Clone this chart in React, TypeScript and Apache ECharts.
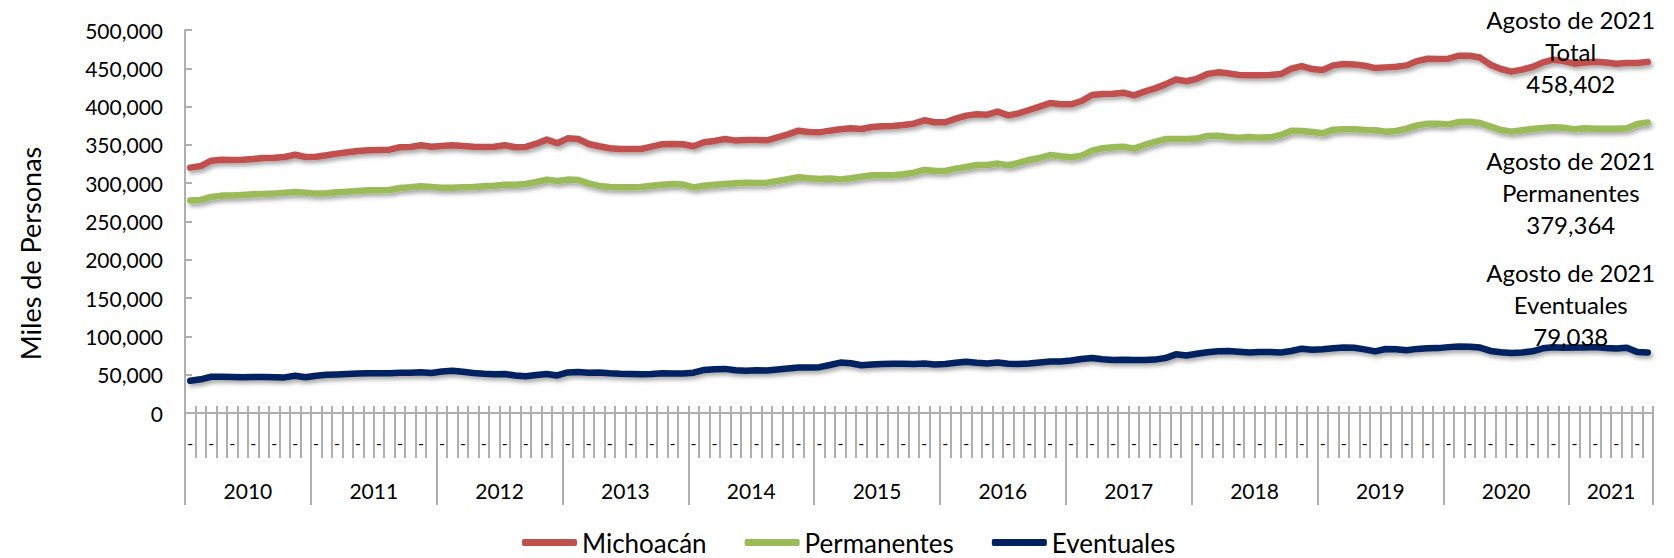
import React, { useEffect, useRef } from "react";
import * as echarts from "echarts";

const YEARS = ["2010", "2011", "2012", "2013", "2014", "2015", "2016", "2017", "2018", "2019", "2020", "2021"];
const MONTHS_IN_YEAR = [12, 12, 12, 12, 12, 12, 12, 12, 12, 12, 12, 8];

const SERIES_NAMES = ["Michoacán", "Permanentes", "Eventuales"];
const NOTE_PERIOD = "Agosto de 2021";
const NOTE_TITLES = ["Total", "Permanentes", "Eventuales"];
const Y_TICKS_MAX = 500000;
const Y_TICKS_STEP = 50000;

const MICHOACAN = [
  320300, 322400, 329400, 330700, 330300, 330700, 331600, 332900, 333300, 334200, 337200, 334200,
  334600, 336400, 338600, 340300, 342100, 343000, 343400, 343800, 346900, 347300, 349500, 347700,
  348600, 349500, 348600, 347700, 347300, 347700, 349500, 346900, 347300, 351600, 356900, 352100,
  358600, 357700, 351200, 348200, 345600, 344700, 344700, 344700, 347700, 350800, 351200, 350800,
  348200, 353400, 355200, 357700, 355600, 356400, 356400, 356000, 359900, 363800, 368600, 366900,
  366400, 368600, 370300, 371600, 370800, 373400, 374200, 374700, 376000, 377700, 382100, 379500,
  379500, 384300, 388200, 389900, 389500, 393400, 388600, 391200, 395600, 399900, 404700, 403000,
  403000, 407300, 415100, 416400, 416900, 418200, 414700, 419500, 423800, 429000, 435300, 433100,
  436300, 442500, 444700, 443400, 441200, 440800, 440800, 441200, 442500, 449400, 452900, 449000,
  447700, 453800, 455500, 455100, 453400, 450300, 451200, 452100, 453800, 459400, 462500, 462100,
  462500, 466400, 466400, 464000, 454700, 449100, 445600, 448200, 451700, 457700, 461200, 459400,
  456000, 457700, 458600, 457700, 456000, 456800, 456800, 458402,
];

const PERMANENTES = [
  277300, 278100, 282000, 283800, 283800, 284600, 285500, 285900, 286400, 287700, 288600, 287700,
  286400, 286800, 288100, 289000, 289900, 290700, 290700, 291200, 293800, 294600, 296000, 295100,
  294200, 294200, 294600, 295100, 296000, 296800, 298100, 298100, 299000, 301600, 304700, 302900,
  304700, 304200, 299900, 296400, 295100, 294600, 294600, 295100, 296800, 298100, 299000, 298200,
  294600, 296800, 298100, 299000, 299900, 300700, 300300, 300700, 302900, 305100, 307700, 306400,
  305500, 306000, 305000, 306400, 308600, 310300, 310300, 310300, 311600, 313800, 317300, 316400,
  316000, 319000, 321200, 323800, 323800, 325600, 323400, 326400, 330300, 332900, 336800, 335100,
  333800, 336000, 342500, 345600, 346900, 347700, 345100, 349900, 353800, 357700, 357700, 357700,
  358200, 361700, 362100, 360400, 359500, 360400, 359500, 359900, 362900, 368600, 368100, 366900,
  365100, 369900, 370300, 370300, 369400, 369000, 367300, 368100, 371200, 375500, 377700, 377700,
  376800, 379900, 380300, 378600, 373800, 369400, 367300, 369000, 370800, 372100, 373000, 372500,
  370300, 371600, 371200, 371200, 371200, 371600, 377300, 379364,
];

const EVENTUALES = [
  42000, 44000, 47300, 47300, 47000, 46800, 46900, 47000, 46600, 46500, 48600, 46600,
  48600, 49800, 50400, 51000, 51500, 51800, 52000, 52000, 52400, 52500, 53100, 52200,
  54200, 55100, 53800, 52100, 51100, 50600, 51000, 49000, 48000, 49600, 51000, 49000,
  53000, 53500, 52500, 52800, 51800, 51200, 51000, 50600, 50900, 51800, 51500, 51500,
  52600, 56200, 57100, 57600, 55800, 55300, 55700, 55600, 56800, 58100, 59500, 59300,
  59800, 62700, 65800, 64900, 62300, 63200, 64000, 64300, 64400, 63900, 64500, 63400,
  64000, 65600, 66900, 65500, 64700, 66000, 64200, 64000, 64500, 66000, 67100, 67300,
  68500, 70400, 71900, 70300, 69300, 69500, 69100, 69100, 69700, 71700, 76600, 75100,
  77300, 79300, 80700, 80900, 80000, 78900, 79600, 79600, 79000, 80900, 84000, 82600,
  83100, 84600, 85500, 85100, 83100, 80400, 83500, 83100, 81800, 83700, 84600, 84700,
  86000, 86800, 86600, 85400, 81000, 79400, 78300, 79000, 80500, 84400, 85900, 85200,
  85500, 85500, 86000, 84800, 84200, 85300, 79500, 79038,
];

const SERIES_VALUES = [MICHOACAN, PERMANENTES, EVENTUALES];
const SERIES_COLORS = ["#C0504D", "#9BBB59", "#002060"];
const NOTE_OFFSETS: [number, number][] = [[-77, -10], [-77, 70], [-77, -48]];

// month categories built from the year list
const CATEGORIES: string[] = [];
const YEAR_START_INDEX: number[] = [];
const YEAR_LABEL_INDEX: Record<number, string> = {};
YEARS.forEach((y, yi) => {
  const start = CATEGORIES.length;
  YEAR_START_INDEX.push(start);
  YEAR_LABEL_INDEX[start + Math.floor(MONTHS_IN_YEAR[yi] / 2)] = y;
  for (let m = 1; m <= MONTHS_IN_YEAR[yi]; m++) {
    CATEGORIES.push(`${y}-${String(m).padStart(2, "0")}`);
  }
});

const FONT = "Lato";
const AXIS_GRAY = "#AFAFAF";
const fmt = (v: number) => Math.round(v).toLocaleString("en-US");

export default function App() {
  const ref = useRef<HTMLDivElement>(null);

  useEffect(() => {
    document.body.style.margin = "0";
    if (!ref.current) return;
    const chart = echarts.init(ref.current, undefined, { renderer: "svg" });
    const last = CATEGORIES.length - 1;

    chart.setOption({
      animation: false,
      textStyle: { fontFamily: FONT, color: "#000" },
      grid: { left: 185, right: 21, top: 30, bottom: 145, containLabel: false },
      legend: {
        data: SERIES_NAMES,
        left: 522,
        top: 529,
        icon: "roundRect",
        itemWidth: 55,
        itemHeight: 7,
        itemGap: 38,
        padding: 0,
        textStyle: { fontSize: 26, lineHeight: 27, fontFamily: FONT, color: "#000" },
      },
      xAxis: [
        {
          type: "category",
          data: CATEGORIES,
          boundaryGap: true,
          position: "bottom",
          axisLine: { show: true, lineStyle: { color: AXIS_GRAY, width: 2 } },
          axisTick: { show: true, interval: 0, length: 45, lineStyle: { color: AXIS_GRAY, width: 2 } },
          axisLabel: {
            show: true,
            interval: 1,
            formatter: () => "-",
            fontSize: 16,
            margin: 21,
            color: "#000",
            fontFamily: FONT,
          },
          splitLine: { show: false },
        },
        {
          type: "category",
          data: CATEGORIES,
          boundaryGap: true,
          position: "bottom",
          axisLine: { show: false },
          axisTick: { show: true, inside: true, interval: 0, length: 7, lineStyle: { color: AXIS_GRAY, width: 2 } },
          axisLabel: { show: false },
          splitLine: { show: false },
        },
        {
          type: "category",
          data: CATEGORIES,
          boundaryGap: true,
          position: "bottom",
          offset: 45,
          axisLine: { show: false },
          axisTick: {
            show: true,
            interval: (index: number) => YEAR_START_INDEX.includes(index),
            length: 47,
            lineStyle: { color: AXIS_GRAY, width: 2 },
          },
          axisLabel: {
            show: true,
            interval: (index: number) => YEAR_LABEL_INDEX[index] !== undefined,
            formatter: (_v: string, index: number) => YEAR_LABEL_INDEX[index] ?? "",
            fontSize: 21,
            margin: 22,
            padding: [0, 10.5, 0, 0],
            color: "#000",
            fontFamily: FONT,
          },
          splitLine: { show: false },
        },
      ],
      yAxis: {
        type: "value",
        min: 0,
        max: Y_TICKS_MAX,
        interval: Y_TICKS_STEP,
        name: "Miles de Personas",
        nameLocation: "middle",
        nameGap: 141,
        nameTextStyle: { fontSize: 27, fontFamily: FONT, color: "#000", padding: [0, 64, 0, 0] },
        axisLine: { show: true, lineStyle: { color: AXIS_GRAY, width: 2 } },
        axisTick: { show: true, inside: true, length: 7, lineStyle: { color: AXIS_GRAY, width: 2 } },
        axisLabel: { formatter: (v: number) => fmt(v), fontSize: 21, margin: 22, color: "#000", fontFamily: FONT },
        splitLine: { show: false },
      },
      series: SERIES_NAMES.map((name, si) => ({
        name,
        type: "line",
        xAxisIndex: 0,
        yAxisIndex: 0,
        data: SERIES_VALUES[si],
        showSymbol: false,
        symbol: "none",
        color: SERIES_COLORS[si],
        lineStyle: {
          width: 6.5,
          color: SERIES_COLORS[si],
          cap: "round",
          join: "round",
          shadowColor: "rgba(0,0,0,0.35)",
          shadowBlur: 4,
          shadowOffsetX: 2,
          shadowOffsetY: 3,
        },
        silent: true,
        markPoint: {
          symbol: "circle",
          symbolSize: 1,
          itemStyle: { color: "rgba(0,0,0,0)" },
          silent: true,
          data: [
            {
              coord: [CATEGORIES[last], SERIES_VALUES[si][last]],
              value: SERIES_VALUES[si][last],
            },
          ],
          label: {
            show: true,
            position: "inside",
            offset: NOTE_OFFSETS[si],
            align: "center",
            verticalAlign: "middle",
            fontSize: 24,
            lineHeight: 32,
            color: "#000",
            fontFamily: FONT,
            formatter: (p: any) => `${NOTE_PERIOD}\n${NOTE_TITLES[si]}\n${fmt(p.value)}`,
          },
        },
      })),
    });

    return () => chart.dispose();
  }, []);

  return <div ref={ref} style={{ width: 1674, height: 558 }} />;
}
